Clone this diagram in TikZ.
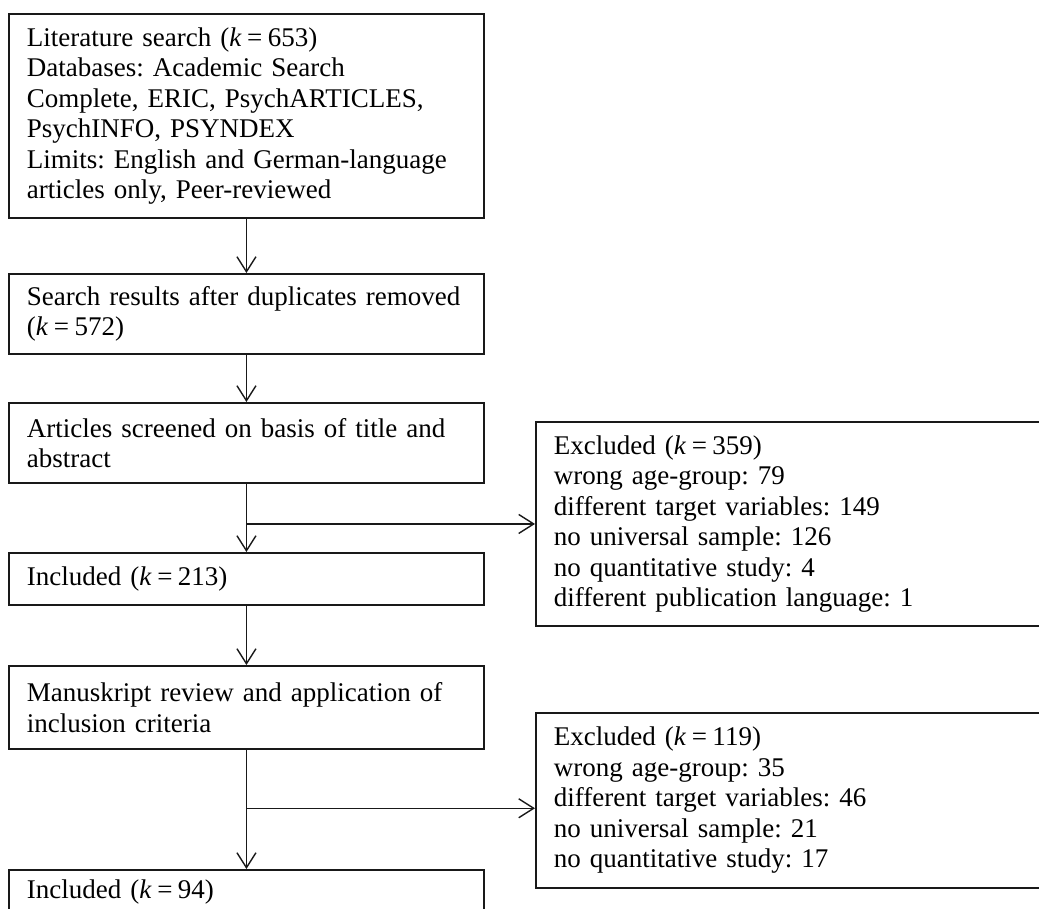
\documentclass[tikz,border=0pt]{standalone}
\usepackage{fontspec}
\setmainfont{Liberation Serif}
\usetikzlibrary{arrows.meta,calc}
\newcommand{\kval}[1]{\textit{k}\kern5.5pt=\kern5.5pt#1}
\tikzset{
  box/.style={draw=black!90, line width=1.9pt, inner xsep=18pt, inner ysep=0pt,
    align=left, anchor=north west, font=\fontsize{27}{30.5}\selectfont\frenchspacing},
  conn/.style={draw=black!90, line width=1.4pt, -{Straight Barb[length=15pt,width=19pt]}}
}
\begin{document}
\begin{tikzpicture}[x=1pt,y=-1pt]
\useasboundingbox (0,0) rectangle (1039,908);
\clip (0,0) rectangle (1039,908);
\fill[white] (0,0) rectangle (1039,908);

\node[box, text width=439pt, minimum height=204pt] (b1) at (8,13)
  {Literature search (\kval{653})\\Databases: Academic Search\\Complete, ERIC, PsychARTICLES,\\PsychINFO, PSYNDEX\\Limits: English and German-language\\articles only, Peer-reviewed};
\node[box, text width=439pt, minimum height=80pt] (b2) at (8,273)
  {Search results after duplicates removed\\(\kval{572})};
\node[box, text width=439pt, minimum height=80pt] (b3) at (8,402)
  {Articles screened on basis of title and\\abstract};
\node[box, text width=439pt, minimum height=52pt] (b4) at (8,552)
  {Included (\kval{213})};
\node[box, text width=439pt, minimum height=83pt] (b5) at (8,665)
  {Manuskript review and application of\\inclusion criteria};
\node[box, text width=439pt, minimum height=44pt] (b6) at (8,869)
  {Included (\kval{94})};

\node[box, text width=474pt, minimum height=204pt] (e1) at (535,421)
  {Excluded (\kval{359})\\wrong age-group: 79\\different target variables: 149\\no universal sample: 126\\no quantitative study: 4\\different publication language: 1};
\node[box, text width=474pt, minimum height=175pt] (e2) at (535,712)
  {Excluded (\kval{119})\\wrong age-group: 35\\different target variables: 46\\no universal sample: 21\\no quantitative study: 17};

\draw[conn] (b1.south) -- (b2.north);
\draw[conn] (b2.south) -- (b3.north);
\draw[conn] (b3.south) -- (b4.north);
\draw[conn] (b4.south) -- (b5.north);
\draw[conn] (b5.south) -- (b6.north);

\coordinate (j1) at (b3.south |- e1.west);
\draw[conn] (j1) -- (e1.west);
\coordinate (j2) at ($(b5.south)!0.49!(b6.north)$);
\draw[conn] (j2) -- (j2 -| e2.west);
\end{tikzpicture}
\end{document}
